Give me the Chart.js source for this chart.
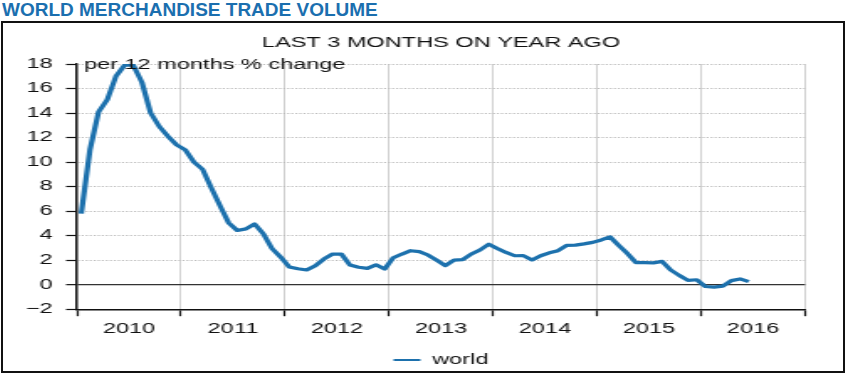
<!DOCTYPE html>
<html>
<head>
<meta charset="utf-8">
<title>World merchandise trade volume</title>
<script src="https://cdn.jsdelivr.net/npm/chart.js@4.4.1/dist/chart.umd.min.js"></script>
<style type="text/css">
body {
	margin: 0;
	background: #fff;
	font-family: 'Liberation Sans', Arial, sans-serif;
}
div.heading {
	position: absolute;
	left: 2px;
	top: 0px;
	font-size: 19px;
	line-height: 20px;
	font-weight: bold;
	color: #1b6faf;
}
div.frame {
	position: absolute;
	left: 1px;
	top: 21px;
	width: 840px;
	height: 348px;
	border: 2px solid #111;
	overflow: hidden;
}
/* the original picture is stretched sideways, so draw narrow and scale */
div.stretch {
	width: 500px;
	height: 354px;
	transform: scaleX(1.68);
	transform-origin: 0 0;
}
</style>
</head>
<body>
<div class="heading">WORLD MERCHANDISE TRADE VOLUME</div>
<div class="frame"><div class="stretch"><canvas id="tradeVolume" width="500" height="354"></canvas></div></div>
<script type="text/javascript">
var startYear = 2010;
var endYear = 2017;
var yearLabels = ['2010', '2011', '2012', '2013', '2014', '2015', '2016'];

// monthly values, Jan to Dec
var world2010 = [5.8, 11.0, 14.1, 15.1, 17.0, 17.9, 17.9, 16.5, 14.0, 12.9, 12.1, 11.4];
var world2011 = [11.0, 10.0, 9.4, 7.9, 6.45, 5.05, 4.42, 4.55, 4.95, 4.15, 2.95, 2.25];
var world2012 = [1.45, 1.3, 1.2, 1.55, 2.1, 2.5, 2.5, 1.6, 1.42, 1.33, 1.62, 1.28];
var world2013 = [2.2, 2.5, 2.77, 2.7, 2.42, 2.0, 1.55, 2.0, 2.04, 2.5, 2.83, 3.3];
var world2014 = [2.95, 2.63, 2.36, 2.37, 2.02, 2.36, 2.6, 2.77, 3.2, 3.23, 3.33, 3.45];
var world2015 = [3.65, 3.9, 3.2, 2.55, 1.8, 1.8, 1.78, 1.9, 1.2, 0.75, 0.35, 0.4];
var world2016 = [-0.15, -0.2, -0.12, 0.33, 0.47, 0.25];

var yMin = -2;
var yMax = 18;
var yStep = 2;

var chartTitle = 'LAST 3 MONTHS ON YEAR AGO';
var unitText = 'per 12 months % change';
var seriesName = 'world';

var lineColor = '#1d71ad';
var fontFamily = "'Liberation Sans', Arial, Helvetica, sans-serif";

var world = [].concat(world2010, world2011, world2012, world2013, world2014, world2015, world2016);
var points = world.map(function(v, i) {
	return { x: startYear + (i + 0.5) / 12, y: v };
});

var unitNote = {
	id: 'unitNote',
	afterDatasetsDraw: function(chart) {
		var ctx = chart.ctx;
		ctx.save();
		ctx.font = '14px ' + fontFamily;
		ctx.fillStyle = '#111';
		ctx.textBaseline = 'middle';
		ctx.fillText(unitText, chart.chartArea.left + 4.2, chart.scales.y.getPixelForValue(yMax) + 1);
		ctx.restore();
	}
};

function isYear(ctx) {
	return ctx.tick && ctx.tick.value % 1 === 0;
}

var canvas = document.getElementById('tradeVolume');
var chart = new Chart(canvas.getContext('2d'), {
	type: 'line',
	data: {
		datasets: [{
			label: seriesName,
			data: points,
			borderColor: lineColor,
			backgroundColor: lineColor,
			borderWidth: 3.2,
			borderJoinStyle: 'round',
			pointRadius: 0,
			tension: 0,
			fill: false
		}]
	},
	options: {
		responsive: false,
		animation: false,
		layout: { padding: { left: 0, right: 22.6, top: 0, bottom: 0 } },
		scales: {
			x: {
				type: 'linear',
				min: startYear,
				max: endYear,
				afterBuildTicks: function(scale) {
					var ticks = [];
					for (var t = startYear; t <= endYear; t += 0.5) {
						ticks.push({ value: t });
					}
					scale.ticks = ticks;
				},
				ticks: {
					autoSkip: false,
					maxRotation: 0,
					padding: 5,
					color: '#111',
					font: { family: fontFamily, size: 14 },
					callback: function(v) {
						return v % 1 ? yearLabels[Math.floor(v) - startYear] : '';
					}
				},
				grid: {
					color: function(ctx) { return isYear(ctx) ? '#d0d0d0' : 'rgba(0,0,0,0)'; },
					tickColor: function(ctx) { return isYear(ctx) ? '#111' : 'rgba(0,0,0,0)'; },
					lineWidth: 1,
					tickLength: 7,
					tickWidth: 1.2
				},
				border: { color: '#111', width: 1.4 }
			},
			y: {
				min: yMin,
				max: yMax,
				afterFit: function(scale) { scale.width = 44; },
				ticks: {
					stepSize: yStep,
					padding: 8,
					color: '#111',
					font: { family: fontFamily, size: 14 },
					callback: function(v) { return v < 0 ? '\u2212' + Math.abs(v) : String(v); }
				},
				grid: {
					color: function(ctx) { return ctx.tick && ctx.tick.value === 0 ? '#333' : '#bcbcbc'; },
					lineWidth: function(ctx) { return ctx.tick && ctx.tick.value === 0 ? 1.3 : 1; },
					tickColor: '#111',
					tickLength: 6.5,
					tickWidth: 1.2
				},
				border: {
					color: '#111',
					width: 1.4,
					dash: function(ctx) { return ctx.tick && ctx.tick.value !== 0 ? [1.2, 1.2] : []; }
				}
			}
		},
		plugins: {
			title: {
				display: true,
				text: chartTitle,
				fullSize: false,
				color: '#111',
				font: { family: fontFamily, size: 14, weight: 'normal' },
				padding: { top: 12.1, bottom: 12.1 }
			},
			legend: {
				position: 'bottom',
				fullSize: false,
				labels: {
					boxWidth: 16,
					boxHeight: 2,
					color: '#111',
					font: { family: fontFamily, size: 14 },
					generateLabels: function(chart) {
						var items = Chart.defaults.plugins.legend.labels.generateLabels(chart);
						items.forEach(function(it) { it.lineWidth = 0; it.fillStyle = lineColor; });
						return items;
					}
				}
			},
			tooltip: { enabled: false }
		}
	},
	plugins: [unitNote]
});
</script>
</body>
</html>
